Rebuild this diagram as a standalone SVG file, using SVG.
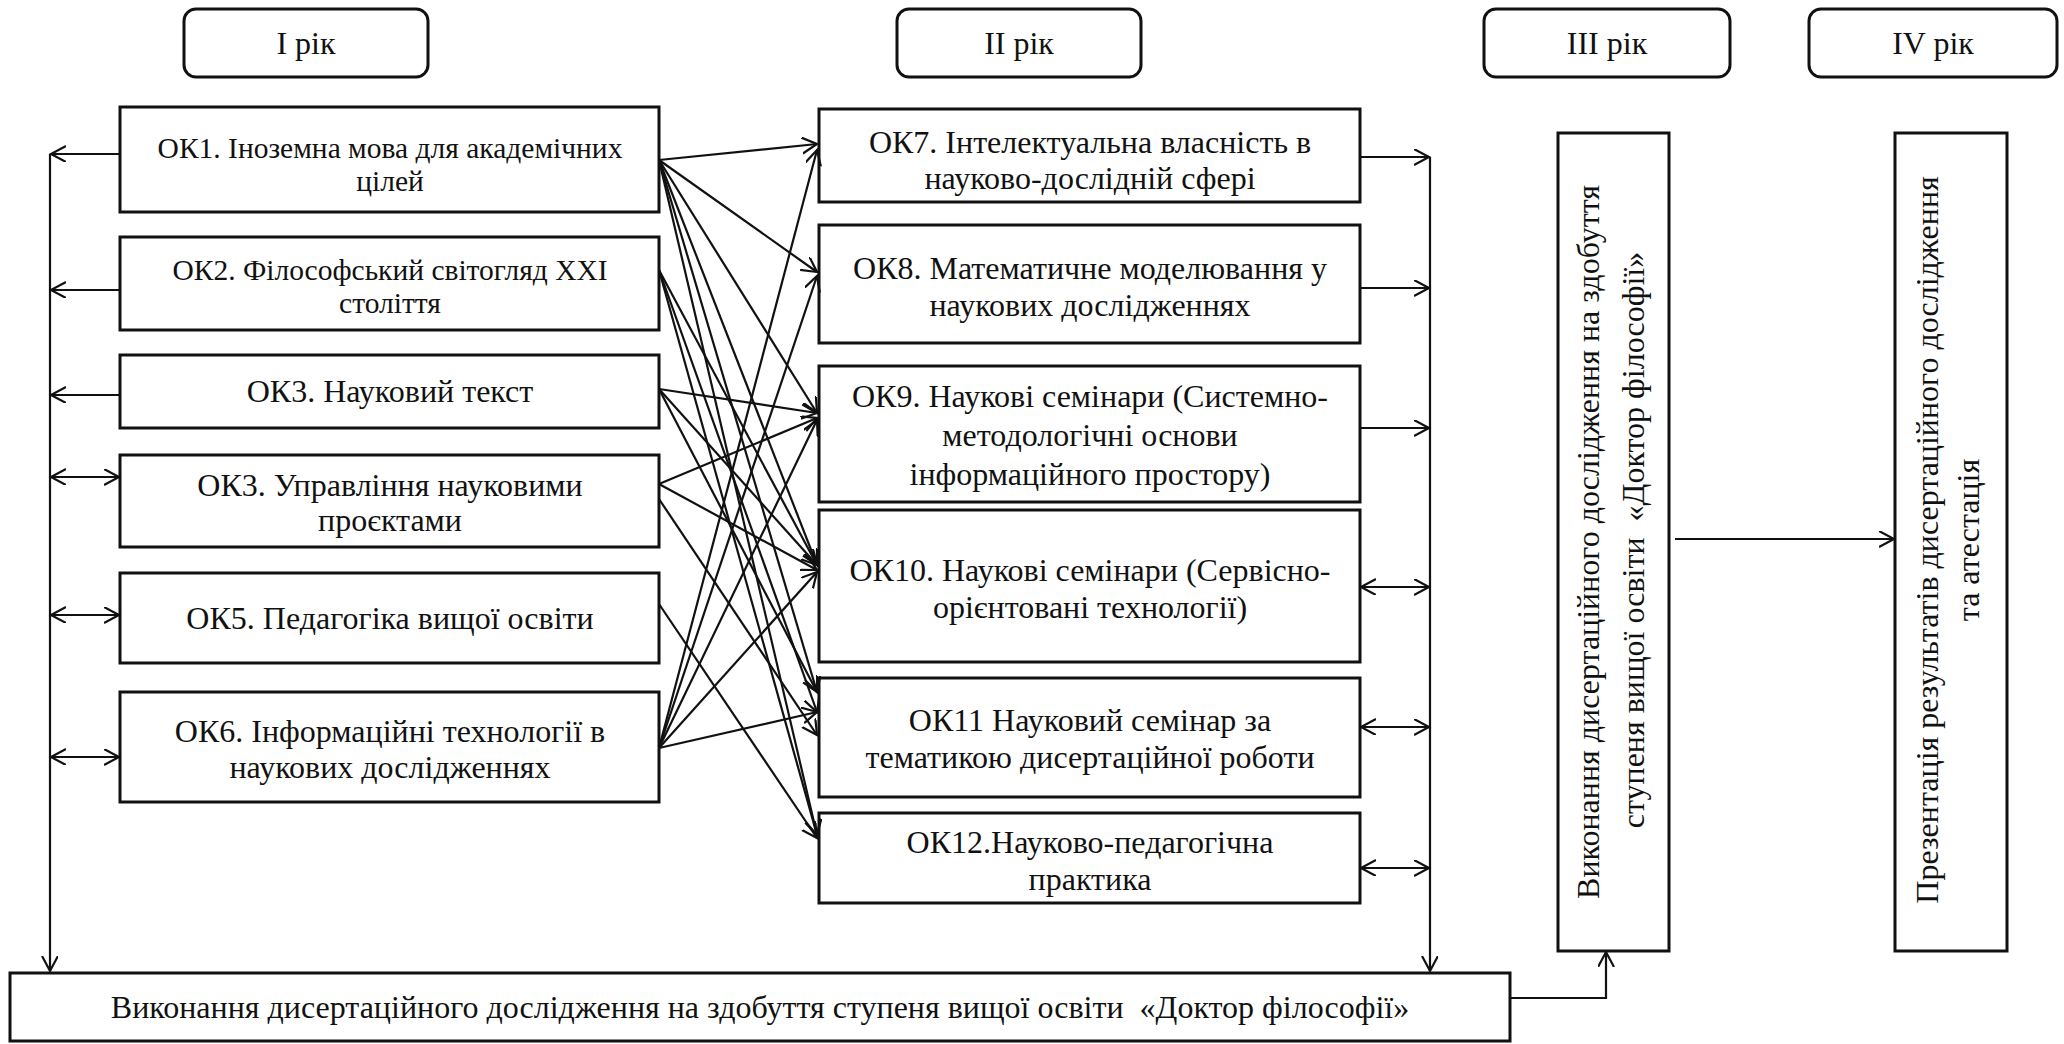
<svg xmlns="http://www.w3.org/2000/svg" width="2064" height="1044" viewBox="0 0 2064 1044">
<style>
.bx{fill:#fff;stroke:#111;stroke-width:3}
.t{font-family:"Liberation Serif","Times New Roman",serif;font-size:32px;fill:#111;text-anchor:middle}
.s{font-size:29.5px}
.ln{stroke:#111;stroke-width:2.2;fill:none}
.a{marker-end:url(#ah)}
.d{marker-start:url(#ah);marker-end:url(#ah)}
</style>
<defs>
<marker id="ah" markerUnits="userSpaceOnUse" markerWidth="18" markerHeight="18" refX="15" refY="8" orient="auto-start-reverse">
<path d="M0,0 L15,8 L0,16" fill="none" stroke="#111" stroke-width="2.2"/>
</marker>
</defs>
<rect width="2064" height="1044" fill="#fff"/>

<g id="year1"><rect class="bx" x="184" y="9" width="244" height="68" rx="12"/><text class="t" x="306" y="54">I рік</text></g>
<g id="year2"><rect class="bx" x="897" y="9" width="244" height="68" rx="12"/><text class="t" x="1019" y="54">II рік</text></g>
<g id="year3"><rect class="bx" x="1484" y="9" width="246" height="68" rx="12"/><text class="t" x="1607" y="54">III рік</text></g>
<g id="year4"><rect class="bx" x="1809" y="9" width="248" height="68" rx="12"/><text class="t" x="1933" y="54">IV рік</text></g>

<g id="ok1"><rect class="bx" x="120" y="107" width="539" height="105"/><text class="t s" x="390" y="158">ОК1. Іноземна мова для академічних</text><text class="t s" x="390" y="191">цілей</text></g>
<g id="ok2"><rect class="bx" x="120" y="237" width="539" height="93"/><text class="t s" x="390" y="280">ОК2. Філософський світогляд XXI</text><text class="t s" x="390" y="313">століття</text></g>
<g id="ok3"><rect class="bx" x="120" y="355" width="539" height="73"/><text class="t" x="390" y="402">ОК3. Науковий текст</text></g>
<g id="ok3b"><rect class="bx" x="120" y="455" width="539" height="92"/><text class="t" x="390" y="496">ОК3. Управління науковими</text><text class="t" x="390" y="531">проєктами</text></g>
<g id="ok5"><rect class="bx" x="120" y="573" width="539" height="90"/><text class="t" x="390" y="629">ОК5. Педагогіка вищої освіти</text></g>
<g id="ok6"><rect class="bx" x="120" y="692" width="539" height="110"/><text class="t" x="390" y="742">ОК6. Інформаційні технології в</text><text class="t" x="390" y="778">наукових дослідженнях</text></g>

<g id="ok7"><rect class="bx" x="819" y="109" width="541" height="93"/><text class="t" x="1090" y="153">ОК7. Інтелектуальна власність в</text><text class="t" x="1090" y="189">науково-дослідній сфері</text></g>
<g id="ok8"><rect class="bx" x="819" y="225" width="541" height="118"/><text class="t" x="1090" y="279">ОК8. Математичне моделювання у</text><text class="t" x="1090" y="316">наукових дослідженнях</text></g>
<g id="ok9"><rect class="bx" x="819" y="366" width="541" height="136"/><text class="t" x="1090" y="407">ОК9. Наукові семінари (Системно-</text><text class="t" x="1090" y="446">методологічні основи</text><text class="t" x="1090" y="485">інформаційного простору)</text></g>
<g id="ok10"><rect class="bx" x="819" y="510" width="541" height="152"/><text class="t" x="1090" y="581">ОК10. Наукові семінари (Сервісно-</text><text class="t" x="1090" y="618">орієнтовані технології)</text></g>
<g id="ok11"><rect class="bx" x="819" y="678" width="541" height="119"/><text class="t" x="1090" y="731">ОК11 Науковий семінар за</text><text class="t" x="1090" y="768">тематикою дисертаційної роботи</text></g>
<g id="ok12"><rect class="bx" x="819" y="813" width="541" height="90"/><text class="t" x="1090" y="853">ОК12.Науково-педагогічна</text><text class="t" x="1090" y="890">практика</text></g>

<g id="dis3"><rect class="bx" x="1558" y="133" width="111" height="818"/><text class="t" transform="translate(1599,542) rotate(-90)">Виконання дисертаційного дослідження на здобуття</text><text class="t" xml:space="preserve" transform="translate(1644,540) rotate(-90)">ступеня вищої освіти  «Доктор філософії»</text></g>
<g id="pres4"><rect class="bx" x="1895" y="133" width="112" height="818"/><text class="t" transform="translate(1938,540) rotate(-90)">Презентація результатів дисертаційного дослідження</text><text class="t" transform="translate(1979,540) rotate(-90)">та атестація</text></g>

<g id="disBottom"><rect class="bx" x="10" y="973" width="1500" height="68"/><text class="t" xml:space="preserve" x="760" y="1018">Виконання дисертаційного дослідження на здобуття ступеня вищої освіти  «Доктор філософії»</text></g>

<g id="connectors">
<line class="ln" x1="50" y1="154" x2="50" y2="971" marker-end="url(#ah)"/>
<line class="ln a" x1="120" y1="154" x2="51" y2="154"/>
<line class="ln a" x1="120" y1="290" x2="51" y2="290"/>
<line class="ln a" x1="120" y1="395" x2="51" y2="395"/>
<line class="ln d" x1="51" y1="477" x2="119" y2="477"/>
<line class="ln d" x1="51" y1="615" x2="119" y2="615"/>
<line class="ln d" x1="51" y1="757" x2="119" y2="757"/>

<line class="ln" x1="1430" y1="157" x2="1430" y2="971" marker-end="url(#ah)"/>
<line class="ln a" x1="1360" y1="157" x2="1429" y2="157"/>
<line class="ln a" x1="1360" y1="288" x2="1429" y2="288"/>
<line class="ln a" x1="1360" y1="428" x2="1429" y2="428"/>
<line class="ln d" x1="1361" y1="587" x2="1429" y2="587"/>
<line class="ln d" x1="1361" y1="727" x2="1429" y2="727"/>
<line class="ln d" x1="1361" y1="868" x2="1429" y2="868"/>

<polyline class="ln a" points="1510,998 1606,998 1606,952"/>
<line class="ln a" x1="1675" y1="539" x2="1894" y2="539"/>

<line class="ln a" x1="659" y1="160" x2="817" y2="144"/>
<line class="ln a" x1="659" y1="160" x2="817" y2="272"/>
<line class="ln a" x1="659" y1="160" x2="817" y2="413"/>
<line class="ln a" x1="659" y1="160" x2="817" y2="565"/>
<line class="ln a" x1="659" y1="160" x2="817" y2="692"/>
<line class="ln a" x1="659" y1="160" x2="817" y2="835"/>
<line class="ln a" x1="659" y1="270" x2="817" y2="565"/>
<line class="ln a" x1="659" y1="270" x2="817" y2="712"/>
<line class="ln a" x1="659" y1="270" x2="817" y2="835"/>
<line class="ln a" x1="659" y1="389" x2="817" y2="413"/>
<line class="ln a" x1="659" y1="389" x2="817" y2="565"/>
<line class="ln a" x1="659" y1="389" x2="817" y2="692"/>
<line class="ln a" x1="659" y1="484" x2="817" y2="418"/>
<line class="ln a" x1="659" y1="484" x2="817" y2="570"/>
<line class="ln a" x1="659" y1="499" x2="817" y2="735"/>
<line class="ln a" x1="659" y1="604" x2="817" y2="838"/>
<line class="ln a" x1="659" y1="748" x2="817" y2="150"/>
<line class="ln a" x1="659" y1="748" x2="817" y2="276"/>
<line class="ln a" x1="659" y1="748" x2="817" y2="420"/>
<line class="ln a" x1="659" y1="748" x2="817" y2="572"/>
<line class="ln a" x1="659" y1="748" x2="817" y2="712"/>
</g>
</svg>
